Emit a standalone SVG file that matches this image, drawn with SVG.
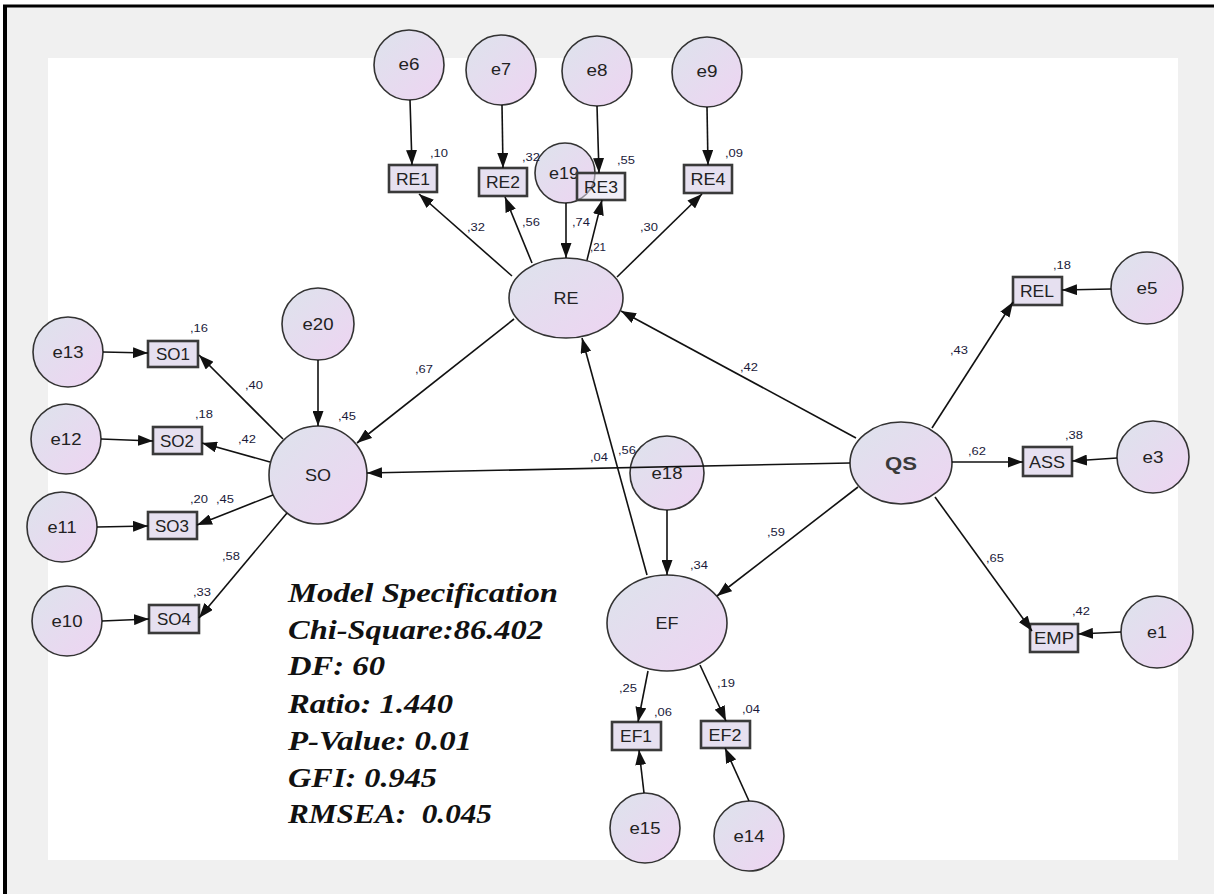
<svg xmlns="http://www.w3.org/2000/svg" width="1214" height="894" viewBox="0 0 1214 894">
<defs>
<linearGradient id="g" x1="0" y1="0" x2="1" y2="1">
<stop offset="0" stop-color="#dde3ec"/>
<stop offset="1" stop-color="#eed4f2"/>
</linearGradient>
<marker id="a" markerUnits="userSpaceOnUse" markerWidth="15" markerHeight="11" refX="15" refY="5.5" orient="auto">
<path d="M0,0 L15,5.5 L0,11 Z" fill="#111"/>
</marker>
<style>
.c{fill:url(#g);stroke:#333;stroke-width:1.6}
.b{fill:#e6e0f0;stroke:#3a3a3a;stroke-width:2.6}
.t{font-family:"Liberation Sans",Arial,sans-serif;font-size:17px;fill:#222;text-anchor:middle}
.k{font-family:"Liberation Sans",Arial,sans-serif;font-size:10px;fill:#1a1a3a}
.m{font-family:"Liberation Serif","Times New Roman",serif;font-size:27px;font-weight:bold;font-style:italic;fill:#111}
#conn line{stroke:#111;stroke-width:1.6;marker-end:url(#a)}
</style>
</defs>
<rect x="0" y="0" width="1214" height="894" fill="#fff"/>
<rect x="5" y="7" width="1209" height="887" fill="#f0f0f0"/>
<rect x="48" y="58" width="1130" height="802" fill="#fff"/>
<line x1="3" y1="6" x2="1214" y2="6" stroke="#000" stroke-width="3"/>
<line x1="5" y1="5" x2="5" y2="894" stroke="#000" stroke-width="4"/>

<g id="e6"><circle class="c" cx="409" cy="65" r="35"/><text class="t" x="409" y="70" textLength="21" lengthAdjust="spacingAndGlyphs">e6</text></g>
<g id="e7"><circle class="c" cx="501" cy="70" r="35"/><text class="t" x="501" y="75" textLength="20" lengthAdjust="spacingAndGlyphs">e7</text></g>
<g id="e8"><circle class="c" cx="597" cy="71" r="35"/><text class="t" x="597" y="76" textLength="21" lengthAdjust="spacingAndGlyphs">e8</text></g>
<g id="e9"><circle class="c" cx="707" cy="72" r="35"/><text class="t" x="707" y="77" textLength="21" lengthAdjust="spacingAndGlyphs">e9</text></g>
<g id="RE1"><rect class="b" x="389" y="165" width="48" height="27"/><text class="t" x="413" y="185" textLength="34" lengthAdjust="spacingAndGlyphs">RE1</text></g>
<g id="RE2"><rect class="b" x="479" y="168" width="48" height="28"/><text class="t" x="503" y="188" textLength="34" lengthAdjust="spacingAndGlyphs">RE2</text></g>
<g id="e19"><circle class="c" cx="565" cy="173" r="30"/><text class="t" x="564" y="179" textLength="30" lengthAdjust="spacingAndGlyphs">e19</text></g>
<g id="RE3"><rect class="b" x="577" y="173" width="48" height="27" style="fill-opacity:0.55"/><text class="t" x="601" y="193" textLength="34" lengthAdjust="spacingAndGlyphs">RE3</text></g>
<g id="RE4"><rect class="b" x="684" y="165" width="48" height="28"/><text class="t" x="708" y="185" textLength="35" lengthAdjust="spacingAndGlyphs">RE4</text></g>
<g id="RE"><ellipse class="c" cx="566" cy="298" rx="57" ry="40"/><text class="t" x="566" y="304" textLength="25" lengthAdjust="spacingAndGlyphs">RE</text></g>

<g id="e20"><circle class="c" cx="318" cy="324" r="36"/><text class="t" x="318" y="330" textLength="31" lengthAdjust="spacingAndGlyphs">e20</text></g>
<g id="SO"><circle class="c" cx="318" cy="475" r="49"/><text class="t" x="318" y="481" textLength="26" lengthAdjust="spacingAndGlyphs">SO</text></g>
<g id="e13"><circle class="c" cx="68" cy="352" r="35"/><text class="t" x="68" y="358" textLength="31" lengthAdjust="spacingAndGlyphs">e13</text></g>
<g id="e12"><circle class="c" cx="66" cy="439" r="35"/><text class="t" x="66" y="445" textLength="31" lengthAdjust="spacingAndGlyphs">e12</text></g>
<g id="e11"><circle class="c" cx="62" cy="527" r="35"/><text class="t" x="62" y="533" textLength="29" lengthAdjust="spacingAndGlyphs">e11</text></g>
<g id="e10"><circle class="c" cx="67" cy="621" r="35"/><text class="t" x="67" y="627" textLength="31" lengthAdjust="spacingAndGlyphs">e10</text></g>
<g id="SO1"><rect class="b" x="148" y="341" width="50" height="26"/><text class="t" x="173" y="360" textLength="34" lengthAdjust="spacingAndGlyphs">SO1</text></g>
<g id="SO2"><rect class="b" x="153" y="427" width="49" height="27"/><text class="t" x="177" y="447" textLength="34" lengthAdjust="spacingAndGlyphs">SO2</text></g>
<g id="SO3"><rect class="b" x="148" y="512" width="49" height="27"/><text class="t" x="172" y="532" textLength="34" lengthAdjust="spacingAndGlyphs">SO3</text></g>
<g id="SO4"><rect class="b" x="149" y="605" width="50" height="28"/><text class="t" x="174" y="625" textLength="34" lengthAdjust="spacingAndGlyphs">SO4</text></g>

<g id="QS"><ellipse class="c" cx="901" cy="463" rx="51" ry="41"/><text class="t" x="901" y="470" textLength="32" lengthAdjust="spacingAndGlyphs" style="font-size:19px;font-weight:bold;fill:#3a3a3a">QS</text></g>
<g id="REL"><rect class="b" x="1013" y="277" width="49" height="28"/><text class="t" x="1037" y="297" textLength="34" lengthAdjust="spacingAndGlyphs">REL</text></g>
<g id="ASS"><rect class="b" x="1023" y="447" width="49" height="29"/><text class="t" x="1047" y="468" textLength="36" lengthAdjust="spacingAndGlyphs">ASS</text></g>
<g id="EMP"><rect class="b" x="1030" y="624" width="48" height="28"/><text class="t" x="1054" y="644" textLength="40" lengthAdjust="spacingAndGlyphs">EMP</text></g>
<g id="e5"><circle class="c" cx="1147" cy="288" r="36"/><text class="t" x="1147" y="294" textLength="21" lengthAdjust="spacingAndGlyphs">e5</text></g>
<g id="e3"><circle class="c" cx="1153" cy="457" r="36"/><text class="t" x="1153" y="463" textLength="21" lengthAdjust="spacingAndGlyphs">e3</text></g>
<g id="e1"><circle class="c" cx="1157" cy="632" r="36"/><text class="t" x="1157" y="638" textLength="20" lengthAdjust="spacingAndGlyphs">e1</text></g>

<g id="e18"><circle class="c" cx="667" cy="473" r="37"/><text class="t" x="667" y="479" textLength="31" lengthAdjust="spacingAndGlyphs">e18</text></g>
<g id="EF"><ellipse class="c" cx="667" cy="623" rx="60" ry="48"/><text class="t" x="667" y="629" textLength="23" lengthAdjust="spacingAndGlyphs">EF</text></g>
<g id="EF1"><rect class="b" x="612" y="722" width="49" height="28"/><text class="t" x="636" y="742" textLength="32" lengthAdjust="spacingAndGlyphs">EF1</text></g>
<g id="EF2"><rect class="b" x="701" y="721" width="49" height="27"/><text class="t" x="725" y="741" textLength="33" lengthAdjust="spacingAndGlyphs">EF2</text></g>
<g id="e15"><circle class="c" cx="645" cy="828" r="35"/><text class="t" x="645" y="834" textLength="31" lengthAdjust="spacingAndGlyphs">e15</text></g>
<g id="e14"><circle class="c" cx="749" cy="836" r="35"/><text class="t" x="749" y="842" textLength="31" lengthAdjust="spacingAndGlyphs">e14</text></g>

<g id="conn">
<line x1="410" y1="100" x2="412" y2="165"/>
<line x1="502" y1="105" x2="503" y2="168"/>
<line x1="597" y1="106" x2="599" y2="173"/>
<line x1="707" y1="107" x2="708" y2="165"/>
<line x1="512" y1="276" x2="419" y2="194"/>
<line x1="532" y1="263" x2="505" y2="197"/>
<line x1="566" y1="203" x2="566" y2="258"/>
<line x1="587" y1="260" x2="602" y2="200"/>
<line x1="617" y1="277" x2="702" y2="194"/>
<line x1="856" y1="438" x2="621" y2="311"/>
<line x1="647" y1="575" x2="582" y2="338"/>
<line x1="514" y1="319" x2="357" y2="443"/>
<line x1="850" y1="463" x2="367" y2="473"/>
<line x1="858" y1="487" x2="717" y2="596"/>
<line x1="667" y1="510" x2="667" y2="575"/>
<line x1="318" y1="360" x2="318" y2="426"/>
<line x1="283" y1="439" x2="199" y2="355"/>
<line x1="270" y1="462" x2="202" y2="443"/>
<line x1="273" y1="495" x2="197" y2="525"/>
<line x1="287" y1="513" x2="199" y2="618"/>
<line x1="103" y1="352" x2="148" y2="353"/>
<line x1="101" y1="439" x2="153" y2="441"/>
<line x1="97" y1="527" x2="148" y2="526"/>
<line x1="102" y1="621" x2="149" y2="619"/>
<line x1="932" y1="428" x2="1013" y2="302"/>
<line x1="952" y1="462" x2="1023" y2="462"/>
<line x1="935" y1="497" x2="1032" y2="631"/>
<line x1="1111" y1="289" x2="1062" y2="290"/>
<line x1="1117" y1="458" x2="1072" y2="461"/>
<line x1="1121" y1="632" x2="1078" y2="634"/>
<line x1="648" y1="671" x2="638" y2="722"/>
<line x1="700" y1="665" x2="726" y2="721"/>
<line x1="644" y1="793" x2="639" y2="750"/>
<line x1="749" y1="801" x2="725" y2="748"/>
</g>

<g id="labels">
<text class="k" x="430" y="157" textLength="18" lengthAdjust="spacingAndGlyphs">,10</text>
<text class="k" x="522" y="161" textLength="18" lengthAdjust="spacingAndGlyphs">,32</text>
<text class="k" x="617" y="164" textLength="18" lengthAdjust="spacingAndGlyphs">,55</text>
<text class="k" x="725" y="157" textLength="18" lengthAdjust="spacingAndGlyphs">,09</text>
<text class="k" x="467" y="231" textLength="18" lengthAdjust="spacingAndGlyphs">,32</text>
<text class="k" x="522" y="226" textLength="18" lengthAdjust="spacingAndGlyphs">,56</text>
<text class="k" x="572" y="226" textLength="18" lengthAdjust="spacingAndGlyphs">,74</text>
<text class="k" x="590" y="251" textLength="16" lengthAdjust="spacingAndGlyphs">,21</text>
<text class="k" x="640" y="231" textLength="18" lengthAdjust="spacingAndGlyphs">,30</text>
<text class="k" x="190" y="332" textLength="18" lengthAdjust="spacingAndGlyphs">,16</text>
<text class="k" x="245" y="389" textLength="18" lengthAdjust="spacingAndGlyphs">,40</text>
<text class="k" x="195" y="418" textLength="18" lengthAdjust="spacingAndGlyphs">,18</text>
<text class="k" x="238" y="443" textLength="18" lengthAdjust="spacingAndGlyphs">,42</text>
<text class="k" x="190" y="503" textLength="18" lengthAdjust="spacingAndGlyphs">,20</text>
<text class="k" x="216" y="503" textLength="18" lengthAdjust="spacingAndGlyphs">,45</text>
<text class="k" x="222" y="560" textLength="18" lengthAdjust="spacingAndGlyphs">,58</text>
<text class="k" x="193" y="596" textLength="18" lengthAdjust="spacingAndGlyphs">,33</text>
<text class="k" x="338" y="420" textLength="18" lengthAdjust="spacingAndGlyphs">,45</text>
<text class="k" x="415" y="373" textLength="18" lengthAdjust="spacingAndGlyphs">,67</text>
<text class="k" x="740" y="371" textLength="18" lengthAdjust="spacingAndGlyphs">,42</text>
<text class="k" x="590" y="461" textLength="18" lengthAdjust="spacingAndGlyphs">,04</text>
<text class="k" x="618" y="454" textLength="18" lengthAdjust="spacingAndGlyphs">,56</text>
<text class="k" x="767" y="536" textLength="18" lengthAdjust="spacingAndGlyphs">,59</text>
<text class="k" x="690" y="569" textLength="18" lengthAdjust="spacingAndGlyphs">,34</text>
<text class="k" x="1053" y="269" textLength="18" lengthAdjust="spacingAndGlyphs">,18</text>
<text class="k" x="950" y="354" textLength="18" lengthAdjust="spacingAndGlyphs">,43</text>
<text class="k" x="968" y="455" textLength="18" lengthAdjust="spacingAndGlyphs">,62</text>
<text class="k" x="1065" y="439" textLength="18" lengthAdjust="spacingAndGlyphs">,38</text>
<text class="k" x="986" y="562" textLength="18" lengthAdjust="spacingAndGlyphs">,65</text>
<text class="k" x="1072" y="615" textLength="18" lengthAdjust="spacingAndGlyphs">,42</text>
<text class="k" x="619" y="692" textLength="18" lengthAdjust="spacingAndGlyphs">,25</text>
<text class="k" x="654" y="716" textLength="18" lengthAdjust="spacingAndGlyphs">,06</text>
<text class="k" x="717" y="687" textLength="18" lengthAdjust="spacingAndGlyphs">,19</text>
<text class="k" x="742" y="713" textLength="18" lengthAdjust="spacingAndGlyphs">,04</text>
</g>

<g id="spec">
<text class="m" x="288" y="602" textLength="270" lengthAdjust="spacingAndGlyphs">Model Specification</text>
<text class="m" x="288" y="639" textLength="255" lengthAdjust="spacingAndGlyphs">Chi-Square:86.402</text>
<text class="m" x="288" y="675" textLength="97" lengthAdjust="spacingAndGlyphs">DF: 60</text>
<text class="m" x="288" y="713" textLength="165" lengthAdjust="spacingAndGlyphs">Ratio: 1.440</text>
<text class="m" x="288" y="750" textLength="184" lengthAdjust="spacingAndGlyphs">P-Value: 0.01</text>
<text class="m" x="288" y="787" textLength="149" lengthAdjust="spacingAndGlyphs">GFI: 0.945</text>
<text class="m" x="288" y="823" textLength="204" lengthAdjust="spacingAndGlyphs" xml:space="preserve">RMSEA:  0.045</text>
</g>
</svg>
